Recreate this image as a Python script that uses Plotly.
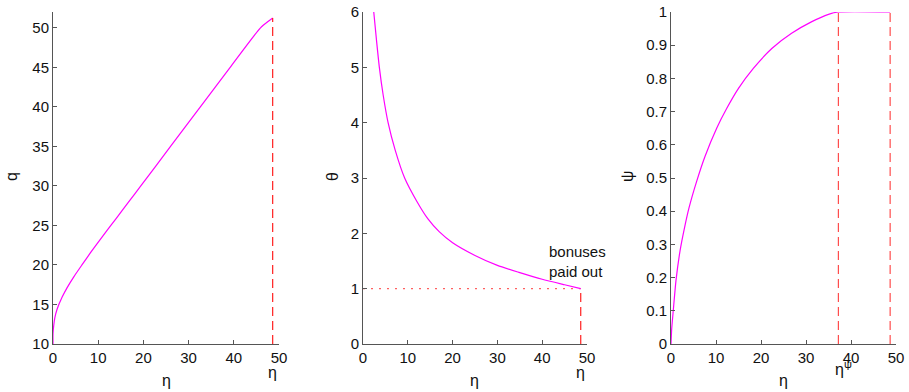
import plotly.graph_objects as go

# ---- data ----
eta_q = [0, 0.0, 0.15, 0.4, 0.9, 2.0, 3.1, 4.6, 6.4, 8.3, 10.1, 12, 14, 16.7, 19.3, 26, 32.6, 39.2, 45.9, 47.8, 48.6]
q_vals = [10, 11.3, 12.3, 13.3, 14.4, 15.9, 17.1, 18.5, 20.0, 21.55, 22.95, 24.4, 25.9, 27.95, 29.9,
          35, 40, 45, 50, 50.9, 51.25]

eta_theta = [2.4, 3.0, 3.65, 4.5, 5.6, 7.2, 9.3, 12, 14.5, 17, 20, 25, 30, 35, 40, 45, 48.6]
theta_vals = [6.0, 5.5, 5.0, 4.5, 4.0, 3.5, 3.0, 2.58, 2.26, 2.03, 1.83, 1.6, 1.42, 1.29, 1.17, 1.07, 1.0]

eta_psi = [0, 0.15, 0.5, 1.1, 2.0, 3.0, 4.0, 5.7, 7.55, 10.15, 12.4, 15.0, 18.3, 22.4, 26.8, 31.3, 35.0, 37.2, 48.7]
psi_vals = [0, 0.045, 0.1, 0.19, 0.28, 0.35, 0.41, 0.49, 0.565, 0.65, 0.71, 0.77, 0.83, 0.89, 0.936,
            0.971, 0.993, 1.0, 1.0]

eta_bar = 48.6      # bonuses paid out
eta_psi_star = 37.2 # psi reaches 1
theta_paid = 1.0

x_ticks = [0, 10, 20, 30, 40, 50]
q_ticks = [10, 15, 20, 25, 30, 35, 40, 45, 50]
theta_ticks = [0, 1, 2, 3, 4, 5, 6]
psi_ticks = [0, 0.1, 0.2, 0.3, 0.4, 0.5, 0.6, 0.7, 0.8, 0.9, 1]
psi_tick_labels = ["0", "0.1", "0.2", "0.3", "0.4", "0.5", "0.6", "0.7", "0.8", "0.9", "1"]

W, H = 909, 392
FONT = "Liberation Sans, Arial, sans-serif"
MAG = "#ff00ff"
RED = "#ff2020"

fig = go.Figure()

def curve(x, y, ax):
    fig.add_trace(go.Scatter(x=x, y=y, mode="lines", xaxis="x" + ax, yaxis="y" + ax,
                             line=dict(color=MAG, width=1.2, shape="spline", smoothing=0.6),
                             showlegend=False, hoverinfo="skip"))

def vline(xv, y0, y1, ax, dash="9px,5px", color=RED):
    fig.add_trace(go.Scatter(x=[xv, xv], y=[y0, y1], mode="lines", xaxis="x" + ax, yaxis="y" + ax,
                             line=dict(color=color, width=1.2, dash=dash),
                             showlegend=False, hoverinfo="skip"))

curve(eta_q, q_vals, "")
vline(eta_bar, q_ticks[0], q_vals[-1], "")

fig.add_trace(go.Scatter(x=[0, eta_bar], y=[theta_paid, theta_paid], mode="lines", xaxis="x2", yaxis="y2",
                         line=dict(color="#ff6060", width=1.2, dash="2px,6px"),
                         showlegend=False, hoverinfo="skip"))
curve(eta_theta, theta_vals, "2")
vline(eta_bar, 0, theta_paid, "2")

curve(eta_psi, psi_vals, "3")
vline(eta_psi_star, 0, 1, "3", color="#ff4d4d")
vline(eta_psi[-1], 0, 1, "3", color="#ff4d4d")

ybot = 1 - 344 / H
ytop = 1 - 12 / H
doms = [(53 / W, 279 / W), (363 / W, 587 / W), (671 / W, 896 / W)]

axcommon = dict(showline=True, linecolor="#555", linewidth=1, ticks="inside", ticklen=4,
                tickcolor="#555", showgrid=False, zeroline=False, mirror=False, automargin=False,
                tickfont=dict(family=FONT, size=15, color="#111"))

layout = dict(width=W, height=H, margin=dict(l=0, r=0, t=0, b=0, pad=0), autosize=False,
              paper_bgcolor="white", plot_bgcolor="white", showlegend=False)

yranges = [(q_ticks[0], 52), (0, 6), (0, 1)]
yticks = [(q_ticks, [str(v) for v in q_ticks]), (theta_ticks, [str(v) for v in theta_ticks]),
          (psi_ticks, psi_tick_labels)]
for i in range(3):
    sfx = "" if i == 0 else str(i + 1)
    layout["xaxis" + sfx] = dict(axcommon, domain=list(doms[i]), range=[0, 50], tickvals=x_ticks,
                                 anchor="y" + sfx)
    layout["yaxis" + sfx] = dict(axcommon, domain=[ybot, ytop], range=list(yranges[i]),
                                 tickvals=yticks[i][0], ticktext=yticks[i][1], anchor="x" + sfx)

fig.update_layout(**layout)

ann = []
tf = dict(family=FONT, size=16, color="#111")
# x-axis titles
for i in range(3):
    cx = (doms[i][0] + doms[i][1]) / 2
    ann.append(dict(x=cx, y=1 - 380 / H, xref="paper", yref="paper", text="η", showarrow=False,
                    font=tf, xanchor="center", yanchor="middle"))
# y-axis titles
for px, t in [(12, "q"), (333, "θ"), (628, "ψ")]:
    ann.append(dict(x=px / W, y=1 - 177 / H, xref="paper", yref="paper", text=t, showarrow=False,
                    font=tf, textangle=-90, xanchor="center", yanchor="middle"))
# marker labels below dashed lines
ann.append(dict(x=eta_bar, y=1 - 372 / H, xref="x", yref="paper", text="η", showarrow=False,
                font=tf, xanchor="center", yanchor="middle"))
ann.append(dict(x=eta_bar, y=1 - 372 / H, xref="x2", yref="paper", text="η", showarrow=False,
                font=tf, xanchor="center", yanchor="middle"))
ann.append(dict(x=eta_psi_star, y=1 - 368 / H, xref="x3", yref="paper", text="η<sup>ψ</sup>",
                showarrow=False, font=tf, xanchor="center", yanchor="middle", xshift=5))
# bonuses text
ann.append(dict(x=41.1, y=1.49, xref="x2", yref="y2", text="bonuses<br>paid out", showarrow=False,
                font=dict(family=FONT, size=15, color="#111"), xanchor="left", yanchor="middle",
                align="left"))
fig.update_layout(annotations=ann)

fig.write_html("out.html", config={"displayModeBar": False, "responsive": False},
               post_script="document.body.style.margin='0';document.body.style.overflow='hidden';"
                           "document.documentElement.style.overflow='hidden';")
